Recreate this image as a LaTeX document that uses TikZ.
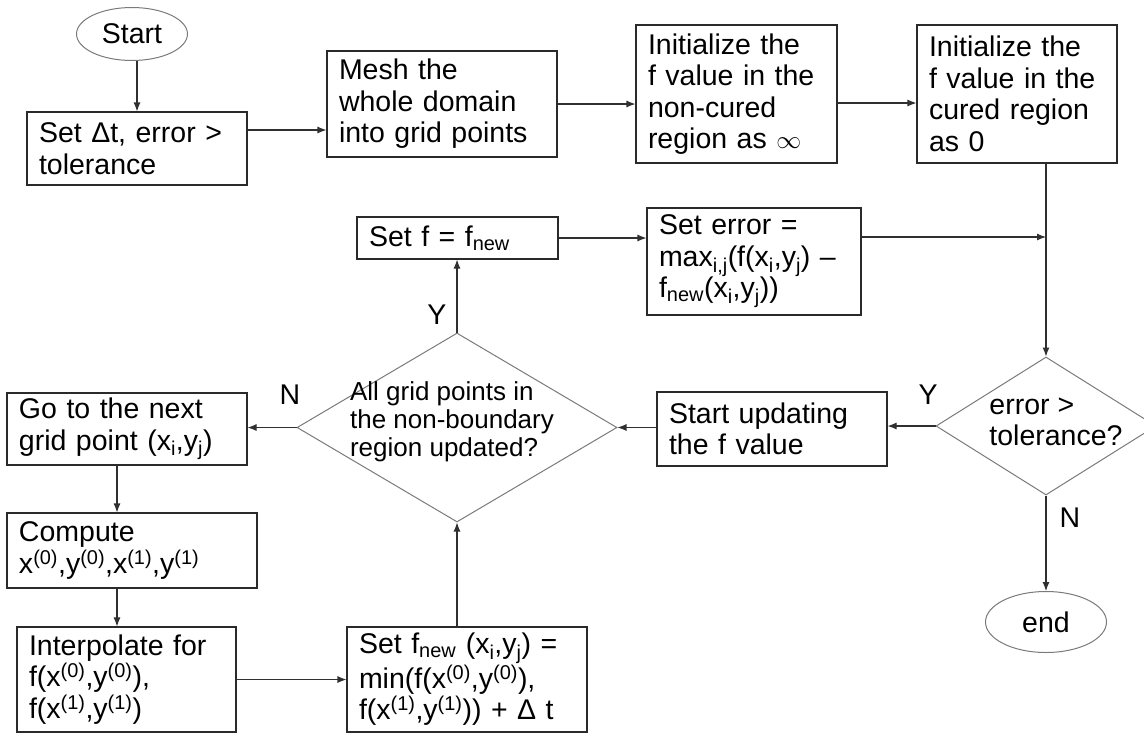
\documentclass[tikz,border=0pt]{standalone}
\usepackage{fontspec}
\setmainfont{Liberation Sans}
\usetikzlibrary{shapes.geometric,arrows.meta}
\newcommand\sbs[1]{\textsubscript{#1}}
\newcommand\sps[1]{\textsuperscript{#1}}
\definecolor{boxc}{HTML}{2A2A2A}
\definecolor{diac}{HTML}{7A7A7A}
\definecolor{linec}{HTML}{303030}
\begin{document}
\begin{tikzpicture}[x=1pt,y=-1pt,
  font=\fontsize{28.5}{31.5}\selectfont,
  box/.style={draw=boxc, line width=1.1pt, rectangle, align=left, inner xsep=12pt, inner ysep=0pt},
  dia/.style={draw=diac, line width=1pt, diamond, inner sep=0pt},
  oval/.style={draw=diac, line width=1pt, ellipse, inner sep=0pt},
  arr/.style={draw=linec, line width=1.1pt, -{Latex[length=9pt,width=7pt]}},
  lbl/.style={inner sep=0pt},
  dtext/.style={inner sep=0pt, align=left}]
\useasboundingbox (0,0) rectangle (1144,734);

\node[oval, minimum width=111pt, minimum height=53pt] (start) at (132,34) {Start};
\node[box, text width=196pt, minimum height=73pt] (set) at (137,148.5) {Set Δt, error >\\tolerance};
\node[box, text width=206pt, minimum height=106pt] (mesh) at (442,104) {Mesh the\\whole domain\\into grid points};
\node[box, text width=177pt, minimum height=138pt] (init1) at (736.5,94) {Initialize the\\f value in the\\non-cured\\region as $\infty$};
\node[box, text width=176pt, minimum height=138pt] (init2) at (1017,94) {Initialize the\\f value in the\\cured region\\as 0};

\node[box, text width=177pt, minimum height=42pt] (setf) at (457.5,238) {Set f = f\sbs{new}};
\node[box, text width=190pt, minimum height=107pt] (seterr) at (754,261.5) {Set error =\\max\sbs{i,j}(f(x\sbs{i},y\sbs{j}) –\\f\sbs{new}(x\sbs{i},y\sbs{j}))};

\node[dia, minimum width=320pt, minimum height=189pt] (bigd) at (457,427.5) {};
\node[dtext, font=\fontsize{26}{28}\selectfont] (bigt) at (452,422) {All grid points in\\the non-boundary\\region updated?};
\node[dia, minimum width=220pt, minimum height=138pt] (errd) at (1046,426) {};
\node[dtext] (errt) at (1056,422) {error >\\tolerance?};

\node[box, text width=216pt, minimum height=72pt] (goto) at (127,429) {Go to the next\\grid point (x\sbs{i},y\sbs{j})};
\node[box, text width=206pt, minimum height=74pt] (upd) at (772,429) {Start updating\\the f value};
\node[box, text width=226pt, minimum height=75pt] (comp) at (132,550.5) {Compute\\x\sps{(0)},y\sps{(0)},x\sps{(1)},y\sps{(1)}};
\node[box, text width=195pt, minimum height=105pt] (interp) at (126.5,679.5) {Interpolate for\\f(x\sps{(0)},y\sps{(0)}),\\f(x\sps{(1)},y\sps{(1)})};
\node[box, text width=216pt, minimum height=105pt] (setfn) at (467,679.5) {Set f\sbs{new} (x\sbs{i},y\sbs{j}) =\\min(f(x\sps{(0)},y\sps{(0)}),\\f(x\sps{(1)},y\sps{(1)})) + Δ t};
\node[oval, minimum width=121pt, minimum height=61pt] (endn) at (1046,622) {end};

\node[lbl] (ly1) at (928,395) {Y};
\node[lbl] (ln1) at (1070,518) {N};
\node[lbl] (ly2) at (437,315) {Y};
\node[lbl] (ln2) at (290,395) {N};

\coordinate (p1) at (247,130);
\coordinate (p2) at (837,103);
\coordinate (j1) at (1046,237);
\coordinate (vx) at (117,0);

\draw[arr] (start.south -| set.north) -- (set.north);
\draw[arr] (p1) -- (p1 -| mesh.west);
\draw[arr] (mesh.east) -- (mesh.east -| init1.west);
\draw[arr] (p2) -- (p2 -| init2.west);
\draw[arr] (init2.south -| errd.north) -- (errd.north);
\draw[arr] (setf.east) -- (setf.east -| seterr.west);
\draw[arr] (seterr.east |- j1) -- (j1);
\draw[arr] (errd.west) -- (errd.west -| upd.east);
\draw[arr] (bigd.east -| upd.west) -- (bigd.east);
\draw[arr] (bigd.west) -- (bigd.west -| goto.east);
\draw[arr] (bigd.north) -- (bigd.north |- setf.south);
\draw[arr] (goto.south -| vx) -- (comp.north -| vx);
\draw[arr] (comp.south -| vx) -- (interp.north -| vx);
\draw[arr] (interp.east) -- (interp.east -| setfn.west);
\draw[arr] (setfn.north -| bigd.south) -- (bigd.south);
\draw[arr] (errd.south) -- (endn.north);
\end{tikzpicture}
\end{document}
